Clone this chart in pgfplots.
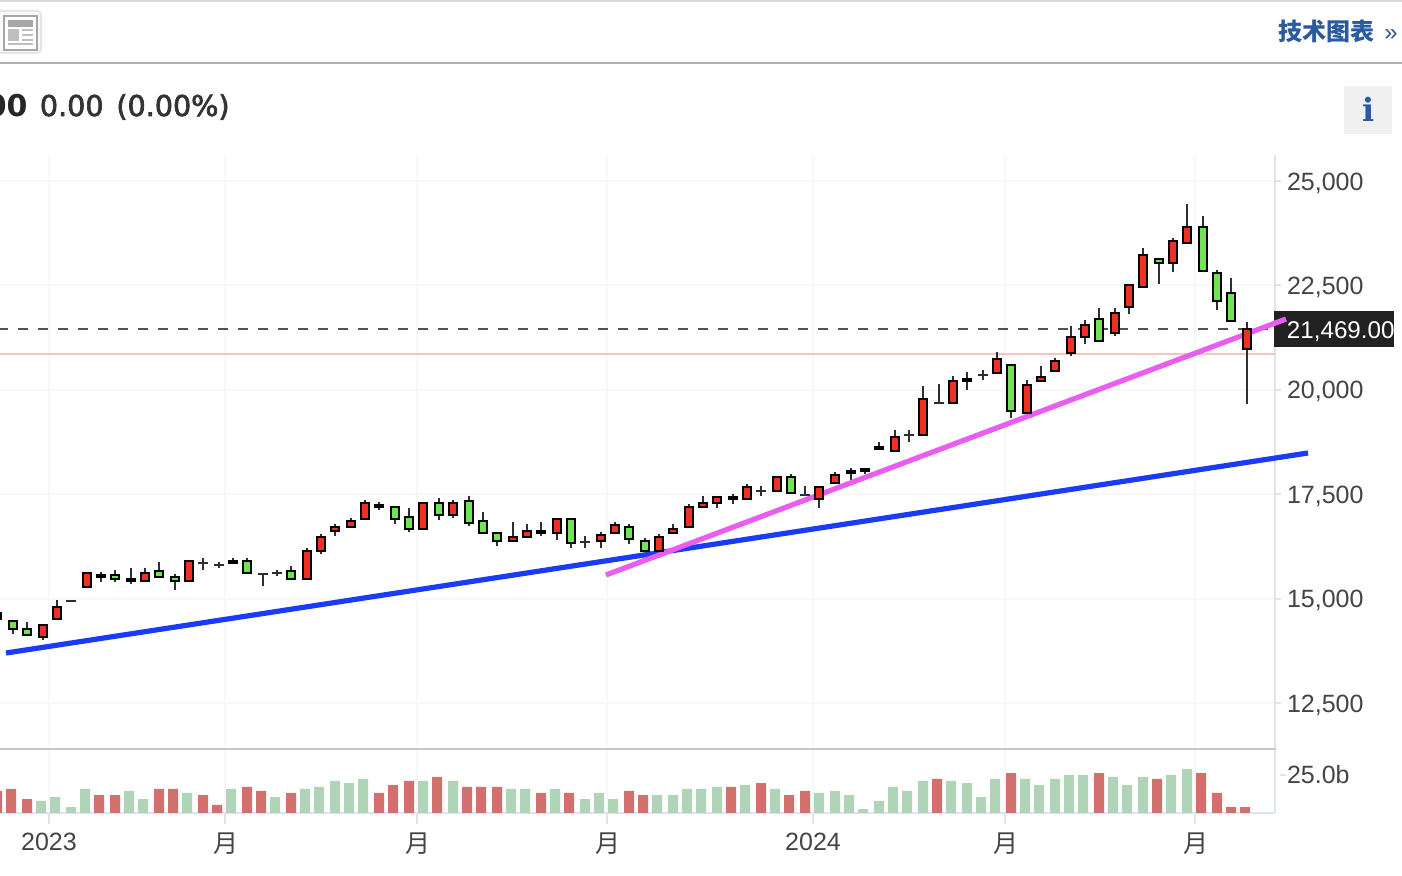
\documentclass[border=0pt]{standalone}
\usepackage{pgfplots}
\usepackage{pgfplotstable}
\usepackage{fontspec}
\pgfplotsset{compat=1.18}
\setmainfont{Liberation Sans}
\newfontfamily\cjk{Noto Sans CJK SC}
\newfontfamily\hdr[FakeBold=2.5]{DejaVu Sans}
\newfontfamily\hdrb{DejaVu Sans}
\newfontfamily\serifb{DejaVu Serif}
\definecolor{cRed}{HTML}{EE3124}
\definecolor{cGreen}{HTML}{70E454}
\definecolor{vRed}{HTML}{D2706D}
\definecolor{vGreen}{HTML}{B0D4B8}
\definecolor{wick}{HTML}{2B3035}
\definecolor{gridc}{HTML}{F7F8F9}
\definecolor{axisc}{HTML}{E0E5EC}
\definecolor{lblc}{HTML}{444444}
\definecolor{linkc}{HTML}{2A5A9F}
\pgfdeclareplotmark{candle}{%
  \pgfpathrectangle{\pgfpoint{-2pt}{0pt}}{\pgfpoint{4pt}{\bodyh pt}}%
  \pgfusepathqfillstroke}
\pgfplotstableread{
x b t l h
-3 14512 14655 14512 14655
43 14081 14368 14009 14368
57 14512 14799 14512 14966
87 15278 15613 15278 15613
101 15517 15565 15397 15637
131 15421 15469 15350 15733
145 15421 15613 15421 15733
189 15421 15900 15421 15900
233 15852 15900 15852 15972
307 15469 16140 15469 16212
321 16140 16475 16068 16547
335 16619 16715 16499 16786
351 16715 16858 16715 16930
365 16906 17289 16906 17361
379 17193 17241 17122 17313
423 16667 17289 16667 17289
453 17002 17289 16930 17361
513 16379 16475 16379 16834
527 16475 16619 16475 16786
541 16571 16619 16499 16834
557 16571 16906 16403 16906
601 16379 16523 16212 16595
615 16571 16763 16571 16834
659 16140 16475 15972 16547
673 16571 16667 16571 16786
689 16715 17193 16715 17265
703 17193 17289 17193 17457
717 17289 17433 17170 17433
733 17385 17433 17265 17505
747 17385 17672 17385 17744
777 17577 17912 17577 17912
819 17385 17672 17170 17672
835 17768 17960 17768 18032
851 18008 18056 17840 18127
865 18056 18104 17984 18104
879 18582 18630 18582 18750
895 18535 18870 18535 19037
923 18918 19780 18918 20091
953 19684 20211 19684 20331
967 20211 20259 19995 20426
997 20402 20738 20402 20905
1027 19445 20115 19445 20235
1041 20211 20307 20211 20570
1055 20450 20690 20450 20762
1071 20881 21264 20809 21528
1085 21264 21552 21097 21672
1115 21360 21839 21288 21959
1129 21983 22510 21815 22510
1143 22462 23228 22462 23396
1173 23036 23563 22821 23635
1187 23515 23898 23515 24449
1247 20977 21456 19660 21624
}\upcandles
\pgfplotstableread{
x b t l h
13 14272 14464 14152 14464
27 14128 14272 14128 14440
115 15469 15565 15397 15685
159 15517 15661 15517 15876
175 15421 15517 15206 15589
247 15613 15900 15613 15972
291 15469 15661 15469 15781
395 16906 17193 16786 17193
409 16667 16954 16595 17170
439 17002 17289 16882 17409
469 16810 17337 16739 17457
483 16571 16858 16571 17074
497 16379 16571 16260 16571
571 16331 16906 16212 16906
629 16427 16715 16308 16786
645 16140 16379 16140 16451
791 17529 17912 17529 17984
1011 19492 20594 19325 20594
1099 21169 21696 21169 21959
1159 23036 23132 22534 23132
1203 22845 23898 22845 24162
1217 22126 22797 21911 22869
1231 21648 22318 21648 22677
}\downcandles
\pgfplotstableread{
x c l h
71 14942 14942 14942
203 15852 15685 15972
219 15805 15733 15876
263 15589 15302 15589
277 15613 15541 15685
585 16355 16212 16499
761 17577 17457 17696
805 17481 17481 17696
909 18918 18750 19037
939 19684 19684 20139
983 20355 20235 20474
}\dojis
\pgfplotstableread{
x v
-3 14.5
11 15.8
27 9.2
99 11.8
115 11.8
159 15.8
173 15.8
203 11.8
217 5.3
247 17.1
261 14.5
291 13.2
379 13.2
393 18.4
409 21.1
437 23.7
467 17.1
481 17.1
497 17.1
541 13.2
569 13.2
629 14.5
643 11.8
731 17.1
761 19.7
789 11.8
805 14.5
937 22.4
1011 26.3
1099 26.3
1157 22.4
1201 26.3
1217 13.2
1231 3.9
1245 3.9
}\volup
\pgfplotstableread{
x v
41 7.9
55 10.5
71 3.9
85 15.8
129 14.5
143 9.2
187 13.2
231 15.8
275 10.5
305 15.8
319 17.1
335 21.1
349 19.7
363 22.4
423 21.1
453 21.1
511 15.8
525 15.8
555 15.8
585 9.2
599 13.2
613 9.2
657 11.8
673 11.8
687 15.8
701 15.8
717 17.1
745 18.4
775 15.8
819 13.2
835 14.5
849 11.8
863 2.6
879 7.9
893 17.1
907 14.5
923 21.1
951 21.1
967 19.7
981 10.5
995 22.4
1025 22.4
1039 18.4
1055 22.4
1069 25.0
1083 25.0
1113 23.7
1127 18.4
1143 23.7
1171 25.0
1187 28.9
}\voldown
\begin{document}
\begin{tikzpicture}
\useasboundingbox (0pt,0pt) rectangle (701pt,438pt);
\begin{scope}[shift={(0pt,438pt)},x=0.5pt,y=-0.5pt]
  % header
  \fill[fill=white] (0,0) rectangle (1402,876);
  \fill[fill=black!15] (0,0) rectangle (1402,2);
  \fill[fill=black!31] (0,62) rectangle (1402,64);
  \draw[draw=black!10,fill=black!2,line width=1pt,rounded corners=2pt] (-10,11) rectangle (41,53);
  \draw[draw=black!35,fill=white,line width=0.7pt] (4,16) rectangle (37,50);
  \fill[fill=black!35] (8,20) rectangle (33,27);
  \fill[fill=black!25] (8,29) rectangle (19,41);
  \foreach \yy in {30,35,40}{\fill[fill=black!25] (22,\yy-1) rectangle (33,\yy+1);}
  \fill[fill=black!25] (8,43) rectangle (33,45);
  \node[anchor=base east,inner sep=0pt,text=black!85] at (28,117) {\fontsize{15}{15}\hdrb\bfseries 00};
  \node[anchor=base west,inner sep=0pt,text=black!80] at (39.5,116) {\fontsize{14.3}{14}\hdr 0.00};
  \node[anchor=base west,inner sep=0pt,text=black!80] at (116,116) {\fontsize{14.3}{14}\hdr (0.00\%)};
  \node[anchor=base west,inner sep=0pt,text=linkc] at (1278,41) {\fontsize{12}{12}\cjk\bfseries 技术图表};
  \node[anchor=base west,inner sep=0pt,text=linkc] at (1384,41) {\fontsize{12}{12}\selectfont »};
  \fill[fill=black!6] (1344,86) rectangle (1392,134);
  \node[anchor=base,inner sep=0pt,text=linkc] at (1368.5,122) {\fontsize{16}{16}\serifb\bfseries i};
  % price label
  \fill[fill=black!87] (1274,311) rectangle (1394,347);
  \node[anchor=base west,inner sep=0pt,text=white] at (1286.5,339) {\fontsize{12.1}{12}\selectfont 21,469.00};
\end{scope}
% price panel
\begin{axis}[
  at={(0pt,64pt)},anchor=south west,scale only axis,
  width=637.5pt,height=296.5pt,
  xmin=0,xmax=1275,ymin=11423,ymax=25623,
  clip=false,
  axis x line=bottom,axis y line=right,
  axis line style={-},
  x axis line style={draw=none},
  y axis line style={draw=none},
  xtick={49,225,417,607,813,1005,1195},
  xticklabels={},
  xtick style={draw=none},
  ytick={12500,15000,17500,20000,22500,25000},
  scaled y ticks=false,
  ytick style={draw=axisc,line width=1pt},
  tick align=outside,
  major tick length=3pt,
  xmajorgrids,ymajorgrids,
  major grid style={draw=gridc,line width=1pt},
  yticklabel style={font=\fontsize{12.5}{12}\selectfont,text=lblc,anchor=west,xshift=-0.5pt,yshift=-1pt,
    /pgf/number format/assume math mode=true,
    /pgf/number format/fixed,
    /pgf/number format/1000 sep={,}},
]
\addplot[draw=axisc,line width=1pt,forget plot] coordinates {(1275,25623) (1275,21887)};
\addplot[draw=axisc,line width=1pt,forget plot] coordinates {(1275,21025) (1275,11423)};
\addplot[draw={rgb,255:red,255;green,192;blue,192},line width=1pt,forget plot] coordinates {(0,20865) (1275,20865)};
\addplot[draw=black!68,line width=1pt,dash pattern=on 5pt off 5pt,dash phase=1pt,forget plot] coordinates {(0,21460) (1275,21460)};
% wicks
\addplot[draw=none,mark=none,forget plot,
  error bars/.cd,y dir=both,y explicit,error mark=none,
  error bar style={draw=wick,line width=1pt}]
  table[x=x,y=b,y error plus expr=\thisrow{h}-\thisrow{b},y error minus expr=\thisrow{b}-\thisrow{l}] {\upcandles};
\addplot[draw=none,mark=none,forget plot,
  error bars/.cd,y dir=both,y explicit,error mark=none,
  error bar style={draw=wick,line width=1pt}]
  table[x=x,y=b,y error plus expr=\thisrow{h}-\thisrow{b},y error minus expr=\thisrow{b}-\thisrow{l}] {\downcandles};
\addplot[draw=none,mark=none,forget plot,
  error bars/.cd,y dir=both,y explicit,error mark=none,
  error bar style={draw=wick,line width=1pt}]
  table[x=x,y=c,y error plus expr=\thisrow{h}-\thisrow{c},y error minus expr=\thisrow{c}-\thisrow{l}] {\dojis};
\addplot[only marks,mark=-,mark size=2.5pt,mark options={draw=wick,line width=1pt},forget plot]
  table[x=x,y=c] {\dojis};
% bodies
\addplot[only marks,mark=candle,forget plot,
  visualization depends on={(\thisrow{t}-\thisrow{b})*0.02088\as\bodyh},
  mark options={draw=black,fill=cRed,line width=1pt,solid}]
  table[x=x,y=b] {\upcandles};
\addplot[only marks,mark=candle,forget plot,
  visualization depends on={(\thisrow{t}-\thisrow{b})*0.02088\as\bodyh},
  mark options={draw=black,fill=cGreen,line width=1pt,solid}]
  table[x=x,y=b] {\downcandles};
% trend lines
\addplot[draw={rgb,255:red,26;green,60;blue,245},line width=2.6pt,forget plot] coordinates {(6,13697) (1308,18487)};
\addplot[draw={rgb,255:red,233;green,94;blue,240},line width=2.6pt,forget plot] coordinates {(606,15566) (1286,21695)};
\end{axis}
% volume panel
\begin{axis}[
  at={(0pt,31.5pt)},anchor=south west,scale only axis,
  width=637.5pt,height=32pt,
  xmin=0,xmax=1275,ymin=0,ymax=42.1,
  axis x line=bottom,axis y line=right,
  axis line style={-},
  x axis line style={draw=axisc,line width=1pt},
  y axis line style={draw=axisc,line width=1pt},
  xtick={49,225,417,607,813,1005,1195},
  xticklabels={2023,{\hspace{1pt}\cjk 月},{\hspace{1pt}\cjk 月},{\hspace{1pt}\cjk 月},2024,{\hspace{1pt}\cjk 月},{\hspace{1pt}\cjk 月}},
  xtick style={draw=axisc,line width=1pt},
  ytick={25},yticklabels={25.0b},
  ytick style={draw=axisc,line width=1pt,shorten >=2.5pt},
  tick align=outside,
  major tick length=5.5pt,
  xmajorgrids,
  major grid style={draw=gridc,line width=1pt},
  yticklabel style={font=\fontsize{12.5}{12}\selectfont,text=lblc,anchor=west,xshift=-3pt},
  xticklabel style={font=\fontsize{12.5}{12}\selectfont,text=lblc,yshift=-1pt},
  ybar,bar width=5pt,bar shift=0pt,
]
\addplot[fill=vRed,draw=none] table[x=x,y=v] {\volup};
\addplot[fill=vGreen,draw=none] table[x=x,y=v] {\voldown};
\end{axis}
\begin{scope}[shift={(0pt,438pt)},x=0.5pt,y=-0.5pt]
  \fill[fill=black!22] (0,748) rectangle (1276,750);
\end{scope}
\end{tikzpicture}
\end{document}
